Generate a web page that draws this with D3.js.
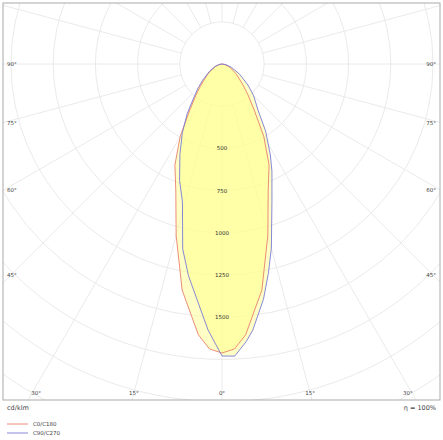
<!DOCTYPE html>
<html><head><meta charset="utf-8">
<script src="https://cdn.jsdelivr.net/npm/d3@7"></script>
<style>body{margin:0;background:#fff}text{font-family:"DejaVu Sans",sans-serif}</style>
</head><body><svg id="c" width="443" height="440"></svg>
<script>
// gamma angles (deg) and intensity (cd/klm)
const redAngles = [0,2.5,5,10,15,20,25,30,35,40,45,50,55,60,70,80,90];
const redC0C180 = [1712,1690,1610,1360,1050,800,660,495,332,240,176,130,100,75,40,15,0];
const blueLeftAngles = [0,3,6,9,12,16,20,25,30,35,40,45,50,60,70,80,90];
const blueC270 = [1730,1578,1406,1270,1120,850,735,590,470,360,260,200,150,85,45,18,0];
const blueRightAngles = [0,2.5,5,6.6,10,12.5,15,20,25,28,33,38,45,51,60,70,80,90];
const blueC90 = [1730,1732,1650,1587,1415,1270,1130,865,700,610,475,346,265,198,120,60,25,0];
const ringValues = [250,500,750,1000,1250,1500,1750,2000,2250,2500,2750];
const ringLabels = [500,750,1000,1250,1500];
const sideAngleLabels = [90,75,60,45];
const bottomAngleLabels = [30,15,0];

const svg = d3.select("#c");
const cx = 222, cy = 64, L = 3, R = 440, T = 3, B = 400;
const r = d3.scaleLinear().domain([0,250]).range([0,42.2]);
const pt = (g, v, s) => [cx + s*r(v)*Math.sin(g*Math.PI/180), cy + r(v)*Math.cos(g*Math.PI/180)];

svg.append("clipPath").attr("id","clip").append("rect").attr("x",L).attr("y",T).attr("width",R-L).attr("height",B-T);
const g = svg.append("g").attr("clip-path","url(#clip)");
const grid = "#e4e4e4";
for (let a = 0; a < 360; a += 15) {
  const s = Math.sin(a*Math.PI/180), c = Math.cos(a*Math.PI/180);
  g.append("line").attr("x1",cx+s*r(250)).attr("y1",cy+c*r(250)).attr("x2",cx+s*700).attr("y2",cy+c*700)
   .attr("stroke",grid).attr("stroke-width",0.8);
}
g.selectAll("circle.ring").data(ringValues).join("circle").attr("cx",cx).attr("cy",cy).attr("r",d=>r(d))
  .attr("fill","none").attr("stroke",grid).attr("stroke-width",0.8);

const line = d3.line();
function poly(la, lv, ra, rv) {
  const pts = [];
  for (let i = la.length-1; i >= 0; i--) pts.push(pt(la[i], lv[i], -1));
  for (let i = 0; i < ra.length; i++) pts.push(pt(ra[i], rv[i], 1));
  return pts;
}
const redPts = poly(redAngles, redC0C180, redAngles, redC0C180);
const bluePts = poly(blueLeftAngles, blueC270, blueRightAngles, blueC90);
[redPts, bluePts].forEach(p => g.append("path").attr("d", line(p)+"Z").attr("fill","rgba(255,255,140,0.5)").attr("stroke","none"));
g.append("path").attr("d", line(redPts)+"Z").attr("fill","none").attr("stroke","#e8806e").attr("stroke-width",0.9);
g.append("path").attr("d", line(bluePts)+"Z").attr("fill","none").attr("stroke","#7a7ad6").attr("stroke-width",0.9);

g.selectAll("text.rl").data(ringLabels).join("text").attr("x",cx).attr("y",d=>cy+r(d)+2)
  .attr("text-anchor","middle").attr("font-size",5.5).attr("fill","#333").text(d=>d);

svg.append("rect").attr("x",L).attr("y",T).attr("width",R-L).attr("height",B-T).attr("fill","none").attr("stroke","#aaa").attr("stroke-width",1);

const lab = {"font-size":5.5, fill:"#444"};
sideAngleLabels.forEach(a => {
  const s = Math.sin(a*Math.PI/180), c = Math.cos(a*Math.PI/180);
  const t = (cx-L)/s; let y = cy + t*c; if (a===45) y -= 8;
  svg.append("text").attr("x",7).attr("y",y+2).attr("font-size",5.5).attr("fill","#444").text(a+"°");
  svg.append("text").attr("x",436).attr("y",y+2).attr("text-anchor","end").attr("font-size",5.5).attr("fill","#444").text(a+"°");
});
bottomAngleLabels.forEach(a => {
  const s = Math.sin(a*Math.PI/180), c = Math.cos(a*Math.PI/180);
  const t = (B-7-cy)/c, dx = t*s + (a===30?-4:0);
  [-1,1].forEach(sg => {
    if (a===0 && sg===1) return;
    svg.append("text").attr("x",cx+sg*dx).attr("y",B-5).attr("text-anchor","middle").attr("font-size",5.5).attr("fill","#444").text(a+"°");
  });
});
svg.append("text").attr("x",7).attr("y",410).attr("font-size",6.5).attr("fill","#444").text("cd/klm");
svg.append("text").attr("x",436).attr("y",410).attr("text-anchor","end").attr("font-size",6.5).attr("fill","#444").text("η = 100%");
[["C0/C180","#e8806e",424],["C90/C270","#7a7ad6",433]].forEach(([t,c,y]) => {
  svg.append("line").attr("x1",7).attr("x2",28).attr("y1",y).attr("y2",y).attr("stroke",c).attr("stroke-width",0.9);
  svg.append("text").attr("x",33).attr("y",y+2).attr("font-size",5.5).attr("fill","#444").text(t);
});
</script></body></html>
